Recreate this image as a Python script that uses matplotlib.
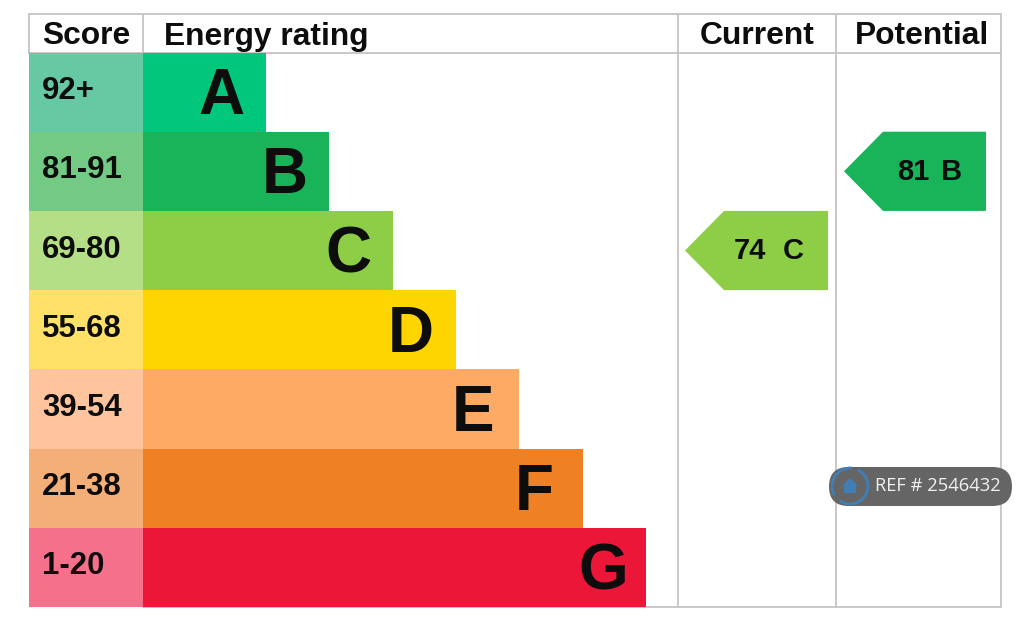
import matplotlib
matplotlib.use("Agg")
import matplotlib.pyplot as plt
from matplotlib.patches import Polygon, Rectangle, FancyBboxPatch, Arc

plt.rcParams["font.family"] = ["Liberation Sans", "DejaVu Sans"]

score_labels = ["92+", "81-91", "69-80", "55-68", "39-54", "21-38", "1-20"]
letters = ["A", "B", "C", "D", "E", "F", "G"]
bar_right = [266, 329, 393, 456, 519, 583, 646]
band_colors = ["#00c77b", "#19b459", "#8dce46", "#ffd500", "#fdaa65", "#ef8023", "#ec1639"]
score_colors = ["#66c9a3", "#72ca85", "#b5df86", "#ffe16a", "#fec49d", "#f4ae77", "#f5708b"]
current_value, current_letter, current_color = 74, "C", "#8dce46"
potential_value, potential_letter, potential_color = 81, "B", "#19b459"
ref_text = "REF # 2546432"

grid = "#c4c4c4"
ink = "#0d0d0d"
blue = "#3f7fb5"
band_top = 52.5
band_h = 79.2
letter_x = [221, 285, 348, 411, 473, 534, 603]

fig = plt.figure(figsize=(10.24, 6.25), dpi=100)
ax = fig.add_axes([0, 0, 1, 1])
ax.set_xlim(0, 1024)
ax.set_ylim(625, 0)
ax.axis("off")

for i in range(7):
    y = band_top + i * band_h
    ax.add_patch(Rectangle((29, y), 114, band_h, fc=score_colors[i], ec="none", zorder=1))
    ax.add_patch(Rectangle((143, y), bar_right[i] - 143, band_h, fc=band_colors[i], ec="none", zorder=1))
    ax.text(42, y + band_h / 2 + 7, score_labels[i], fontsize=22.4, fontweight="bold",
            color=ink, ha="left", va="baseline", zorder=3)
    ax.text(letter_x[i], y + band_h / 2 + 22, letters[i], fontsize=46, fontweight="bold",
            color=ink, ha="center", va="baseline", zorder=3)

# table frame
for x in [29, 143]:
    ax.plot([x, x], [13.5, 52.5], color=grid, lw=1.3, zorder=2, solid_capstyle="butt")
for x in [678, 835.5, 1001]:
    ax.plot([x, x], [13.5, 607], color=grid, lw=1.3, zorder=2, solid_capstyle="butt")
ax.plot([29, 1001], [13.5, 13.5], color=grid, lw=1.3, zorder=2)
ax.plot([29, 1001], [52.5, 52.5], color=grid, lw=1.3, zorder=0)
ax.plot([143, 1001], [607, 607], color=grid, lw=1.3, zorder=0)

for x, label, ha in [(42, "Score", "left"), (164, "Energy rating", "left"),
                     (757, "Current", "center"), (922, "Potential", "center")]:
    ax.text(x, 44.5, label, fontsize=22.9, fontweight="bold", color=ink, ha=ha, va="baseline", zorder=3)


def arrow(left, right, row, color, value, letter, num_x, letter_x):
    top = band_top + row * band_h
    mid = top + band_h / 2
    tip = left + 39
    ax.add_patch(Polygon([(left, mid), (tip, top), (right, top), (right, top + band_h), (tip, top + band_h)],
                         closed=True, fc=color, ec="none", zorder=3))
    ax.text(num_x, mid + 8.5, str(value), fontsize=21, fontweight="bold", color=ink, ha="center", va="baseline", zorder=4)
    ax.text(letter_x, mid + 8.5, letter, fontsize=21, fontweight="bold", color=ink, ha="center", va="baseline", zorder=4)


arrow(685, 828, 2, current_color, current_value, current_letter, 750, 793)
arrow(844, 986, 1, potential_color, potential_value, potential_letter, 913, 952)

# watermark badge
ax.add_patch(FancyBboxPatch((829, 467), 183, 39, boxstyle="round,pad=0,rounding_size=19.5",
                            fc="#666565", ec="none", zorder=5))
ax.add_patch(Arc((850, 486), 36, 36, theta1=-65, theta2=125, color=blue, lw=2, zorder=6))
ax.add_patch(Arc((850, 486), 36, 36, theta1=150, theta2=275, color=blue, lw=2, zorder=6))
ax.add_patch(Polygon([(842, 486), (850, 478), (858, 486), (856, 486), (856, 493), (844, 493), (844, 486)],
                     closed=True, fc=blue, ec="none", zorder=6))
ax.text(875, 486, ref_text, fontsize=13.2, color="#f0f0f0", ha="left", va="center", zorder=6,
        family=["Open Sans", "DejaVu Sans"])

fig.savefig("out.png", dpi=100, facecolor="white")
